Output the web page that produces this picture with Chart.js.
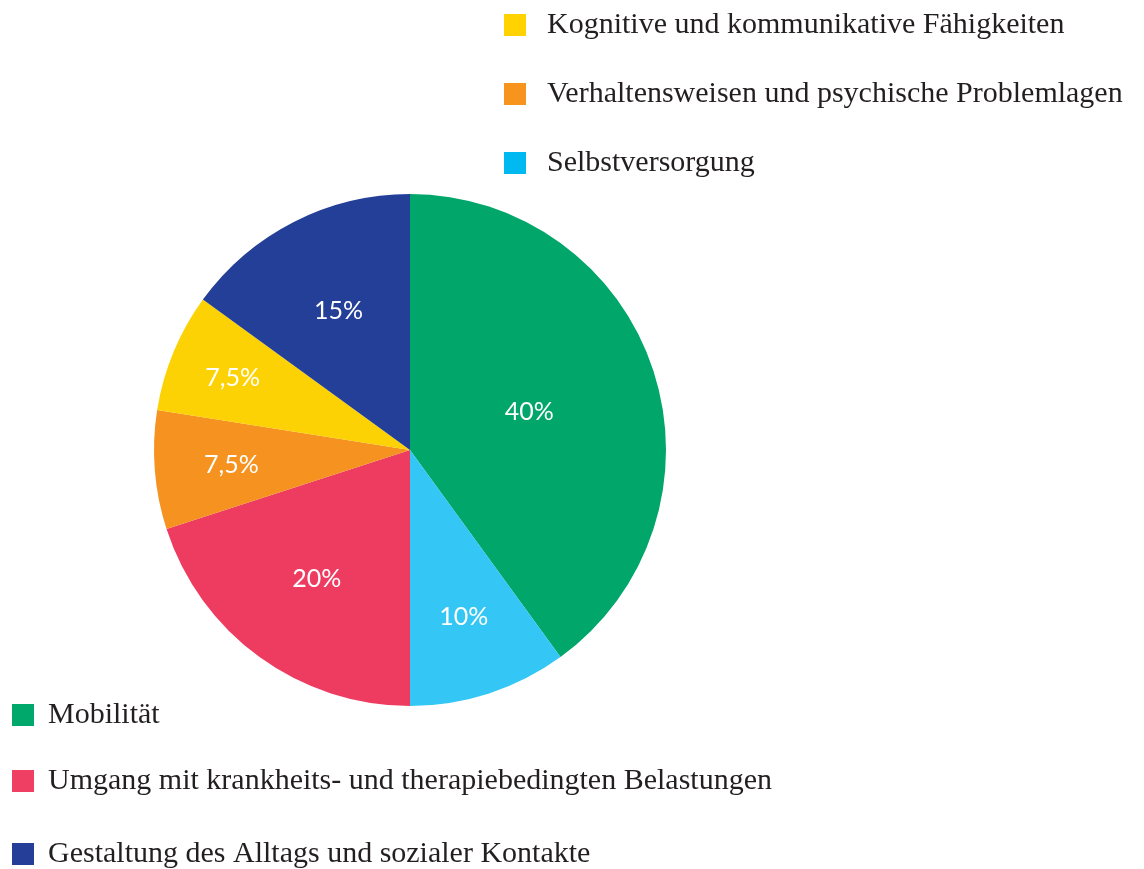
<!DOCTYPE html>
<html>
<head>
<meta charset="utf-8">
<script src="https://cdn.jsdelivr.net/npm/chart.js@4.4.0/dist/chart.umd.min.js"></script>
<style>
  html, body { margin: 0; padding: 0; background: #fff; }
  #wrap { width: 1144px; height: 869px; position: relative; }
</style>
</head>
<body>
<div id="wrap"><canvas id="pieChart" width="1144" height="869"></canvas></div>
<script>
// data
const categories = [
    'Mobilität',
    'Selbstversorgung',
    'Umgang mit krankheits- und therapiebedingten Belastungen',
    'Verhaltensweisen und psychische Problemlagen',
    'Kognitive und kommunikative Fähigkeiten',
    'Gestaltung des Alltags und sozialer Kontakte'
];
const values = [40, 10, 20, 7.5, 7.5, 15];
const valueLabels = ['40%', '10%', '20%', '7,5%', '7,5%', '15%'];

const sliceColors = ['#00A66A', '#34C6F4', '#EE3B60', '#F6921F', '#FDD204', '#233F98'];
const swatchColors = ['#00A86B', '#00B9F1', '#EF3F62', '#F7941D', '#FFD200', '#253F99'];

// legend layout: [index, x, y-center]
const legendTop = [[4, 504, 25], [3, 504, 94], [1, 504, 163]];
const legendBottom = [[0, 12, 715], [2, 12, 781], [5, 12, 854]];
// radius fraction for each value label
const labelRadius = [0.49, 0.68, 0.62, 0.70, 0.75, 0.615];

const labelPlugin = {
    id: 'sliceLabels',
    afterDatasetsDraw(chart) {
        const ctx = chart.ctx;
        const meta = chart.getDatasetMeta(0);
        ctx.save();
        ctx.fillStyle = '#ffffff';
        ctx.font = '25px Lato';
        ctx.textAlign = 'center';
        ctx.textBaseline = 'middle';
        meta.data.forEach(function(arc, i) {
            const p = arc.getProps(['x', 'y', 'startAngle', 'endAngle', 'outerRadius'], true);
            const mid = (p.startAngle + p.endAngle) / 2;
            const r = p.outerRadius * labelRadius[i];
            ctx.fillText(valueLabels[i], p.x + Math.cos(mid) * r, p.y + Math.sin(mid) * r + 1);
        });
        ctx.restore();
    }
};

const legendPlugin = {
    id: 'splitLegend',
    afterDraw(chart) {
        const ctx = chart.ctx;
        ctx.save();
        ctx.font = '30px "Liberation Serif"';
        ctx.textBaseline = 'middle';
        ctx.textAlign = 'left';
        function drawItems(items, textOffset) {
            items.forEach(function(it) {
                const i = it[0], x = it[1], y = it[2];
                ctx.fillStyle = swatchColors[i];
                ctx.fillRect(x, y - 11, 22, 22);
                ctx.fillStyle = '#231f20';
                ctx.fillText(categories[i], x + textOffset, y);
            });
        }
        drawItems(legendTop, 43);
        drawItems(legendBottom, 36);
        ctx.restore();
    }
};

const ctx = document.getElementById('pieChart').getContext('2d');
const myChart = new Chart(ctx, {
    type: 'pie',
    data: {
        labels: categories,
        datasets: [{
            data: values,
            backgroundColor: sliceColors,
            borderWidth: 0
        }]
    },
    options: {
        responsive: false,
        animation: false,
        layout: {
            padding: { left: 154, right: 478, top: 194, bottom: 163 }
        },
        plugins: {
            legend: { display: false },
            title: { display: false },
            tooltip: { enabled: false }
        }
    },
    plugins: [labelPlugin, legendPlugin]
});
</script>
</body>
</html>
